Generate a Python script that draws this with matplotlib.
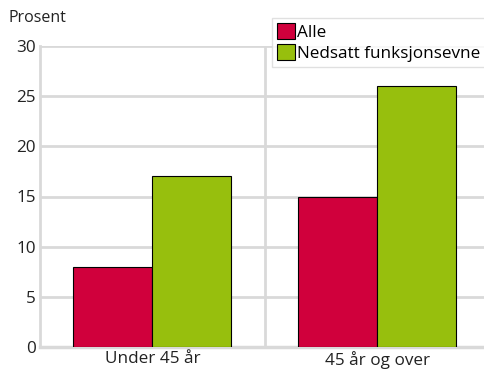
import matplotlib
matplotlib.use("Agg")
import matplotlib.pyplot as plt
import numpy as np

plt.rcParams['font.family'] = ['Open Sans', 'DejaVu Sans']

# data
categories = ['Under 45 år', '45 år og over']
series_names = ['Alle', 'Nedsatt funksjonsevne']
alle = [8, 15]
nedsatt = [17, 26]
colors = ['#d0003c', '#97bf0d']
yticks = [0, 5, 10, 15, 20, 25, 30]

fig = plt.figure(figsize=(4.85, 3.8), dpi=100)
W, H = 485, 380
# plot area extends a little beyond the right edge, like the reference
ax = fig.add_axes([40 / W, 33 / H, 449.5 / W, 301 / H])

x = np.arange(len(categories))
width = 0.351
ax.bar(x - width / 2, alle, width, color=colors[0], edgecolor='black',
       linewidth=0.8, label=series_names[0], zorder=3)
ax.bar(x + width / 2, nedsatt, width, color=colors[1], edgecolor='black',
       linewidth=0.8, label=series_names[1], zorder=3)

ax.set_xlim(-0.5, 1.5)
ax.set_ylim(0, 30)
ax.set_yticks(yticks)
ax.set_xticks(x)
ax.set_xticklabels(categories)

grid_color = '#d9d9d9'
ax.yaxis.grid(True, color=grid_color, linewidth=2, zorder=0)
ax.axvline(0.5, color=grid_color, linewidth=2, zorder=0)
for side in ['top', 'right']:
    ax.spines[side].set_visible(False)
ax.spines['left'].set_color(grid_color)
ax.spines['left'].set_linewidth(2)
ax.spines['bottom'].set_color(grid_color)
ax.spines['bottom'].set_linewidth(2.5)
ax.tick_params(length=0, labelsize=12.3, colors='#222222', pad=3)

fig.text(8 / W, 1 - 18 / H, 'Prosent', fontsize=11.5, va='center',
         ha='left', color='#222222')

leg = fig.legend(loc='upper left', bbox_to_anchor=(272 / W, 1 - 18 / H),
                 frameon=True, fancybox=False, fontsize=12.3,
                 handlelength=1.05, handleheight=1.05, handletextpad=0.1,
                 borderpad=0.3, labelspacing=0.2, borderaxespad=0)
leg.get_frame().set_edgecolor(grid_color)
leg.get_frame().set_linewidth(1)

fig.savefig('out.png', dpi=100)
